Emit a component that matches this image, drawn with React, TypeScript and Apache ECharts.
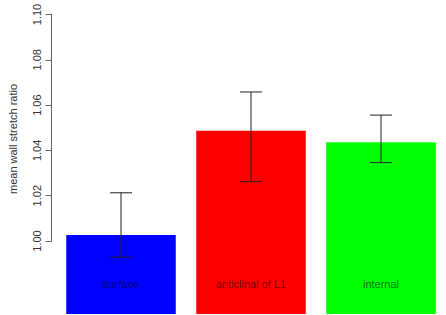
import React, { useEffect, useRef } from "react";
import * as echarts from "echarts";

const categories = ["surface", "anticlinal of L1", "internal"];
const means = [1.0027, 1.0487, 1.0436];
const errLow = [0.9929, 1.0262, 1.0346];
const errHigh = [1.0213, 1.0658, 1.0556];
const barColors = ["#0000FF", "#FF0000", "#00FF00"];
const yTicks = [1.0, 1.02, 1.04, 1.06, 1.08, 1.1];
const yTitle = "mean wall stretch ratio";

const FONT = "Liberation Sans, Arial, Helvetica, sans-serif";

export default function App() {
  const ref = useRef<HTMLDivElement>(null);
  useEffect(() => {
    if (!ref.current) return;
    const chart = echarts.init(ref.current, null, { renderer: "svg" });
    const option: any = {
      animation: false,
      backgroundColor: "#ffffff",
      textStyle: { fontFamily: FONT },
      grid: [
        { left: 56, width: 391, top: 14.5, height: 299.5 },
        { left: 51.5, width: 1, top: 14.5, height: 226.5 },
      ],
      xAxis: [
        {
          type: "category",
          gridIndex: 0,
          data: categories,
          show: false,
        },
        { type: "value", gridIndex: 1, min: 0, max: 1, show: false },
      ],
      yAxis: [
        {
          type: "value",
          gridIndex: 0,
          min: 0.9678,
          max: 1.1,
          show: false,
        },
        {
          type: "value",
          gridIndex: 1,
          min: yTicks[0],
          max: yTicks[yTicks.length - 1],
          interval: 0.02,
          splitLine: { show: false },
          axisLine: { show: true, lineStyle: { color: "#666", width: 1 } },
          axisTick: { show: true, length: 6, lineStyle: { color: "#666", width: 1 } },
          axisLabel: {
            rotate: 90,
            margin: 9,
            fontSize: 11,
            color: "#333",
            fontFamily: FONT,
            formatter: (v: number) => v.toFixed(2),
          },
        },
      ],
      series: [
        {
          type: "bar",
          xAxisIndex: 0,
          yAxisIndex: 0,
          barWidth: 109.5,
          data: means.map((v, i) => ({ value: v, itemStyle: { color: barColors[i] } })),
          label: {
            show: true,
            position: "insideBottom",
            distance: 25,
            formatter: "{b}",
            fontSize: 11,
            fontFamily: FONT,
            color: "rgba(0,0,0,0.6)",
          },
        },
        {
          type: "custom",
          xAxisIndex: 0,
          yAxisIndex: 0,
          z: 10,
          data: categories.map((_, i) => [i, errLow[i], errHigh[i]]),
          encode: { x: 0, y: [1, 2] },
          renderItem: (params: any, api: any) => {
            const x = api.value(0);
            const lo = api.coord([x, api.value(1)]);
            const hi = api.coord([x, api.value(2)]);
            const hw = 11;
            const style = { stroke: "#222", lineWidth: 1 };
            return {
              type: "group",
              children: [
                { type: "line", shape: { x1: lo[0], y1: lo[1], x2: hi[0], y2: hi[1] }, style },
                { type: "line", shape: { x1: hi[0] - hw, y1: hi[1], x2: hi[0] + hw, y2: hi[1] }, style },
                { type: "line", shape: { x1: lo[0] - hw, y1: lo[1], x2: lo[0] + hw, y2: lo[1] }, style },
              ],
            };
          },
        },
        {
          type: "line",
          xAxisIndex: 1,
          yAxisIndex: 1,
          data: [],
        },
      ],
      graphic: [
        {
          type: "text",
          x: 13,
          y: 139,
          rotation: Math.PI / 2,
          style: {
            text: yTitle,
            fontSize: 11,
            fontFamily: FONT,
            fill: "#333",
            align: "center",
            verticalAlign: "middle",
          },
        },
      ],
    };
    chart.setOption(option);
    return () => chart.dispose();
  }, []);
  return (
    <div
      ref={ref}
      style={{ position: "fixed", left: 0, top: 0, width: 446, height: 315 }}
    />
  );
}
